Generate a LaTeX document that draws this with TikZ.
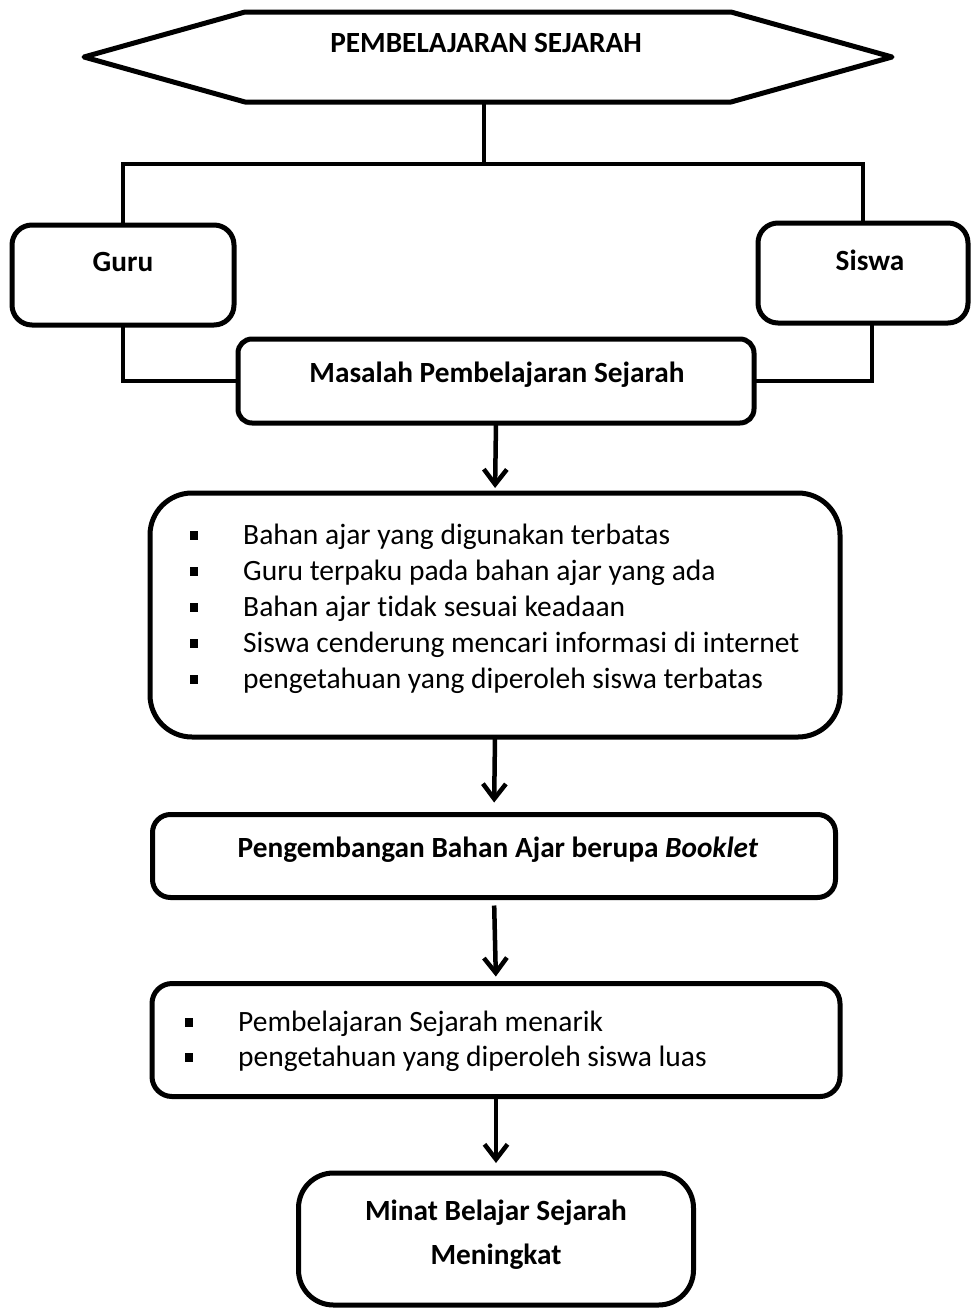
\documentclass[tikz,border=0pt]{standalone}
\usepackage{fontspec}
\setmainfont{Carlito}[Ligatures={NoCommon}]
\usetikzlibrary{arrows.meta}
\newcommand{\bul}{\makebox[53pt][l]{\rule[4pt]{8pt}{9pt}}}
\begin{document}
\begin{tikzpicture}[x=1pt,y=-1pt,
  box/.style={draw,line width=5pt,rounded corners=#1,inner sep=0pt,outer sep=0pt},
  box/.default=20pt,
  title/.style={font=\fontsize{29.3}{34}\selectfont\bfseries,inner sep=0pt,anchor=center},
  item/.style={font=\fontsize{29.5}{34}\selectfont,inner sep=0pt,anchor=base west},
  conn/.style={line width=4.5pt},
  arr/.style={line width=4.5pt,-{Straight Barb[length=15pt,width=23pt,line width=4.5pt]}},
]
\useasboundingbox (0,0) rectangle (971,1309);

% top hexagon
\draw[line width=5pt,line join=round]
  (84,57) -- (245,12) -- (731,12) -- (892,57) -- (731,102) -- (245,102) -- cycle;
\coordinate (hx) at (484,102);
\node[title] (thead) at (486,43) {PEMBELAJARAN SEJARAH};

% boxes
\node[box, minimum width=222pt, minimum height=100pt] (guru) at (123,275) {};
\node[title] (tguru) at (123,262) {Guru};
\node[box, minimum width=210pt, minimum height=100pt] (siswa) at (863,273) {};
\node[title] (tsiswa) at (870,260) {Siswa};
\node[box=14pt, minimum width=516pt, minimum height=84pt] (masalah) at (496,381) {};
\node[title] (tmasalah) at (497,375) {Masalah Pembelajaran Sejarah};
\node[box=42pt, minimum width=690pt, minimum height=244pt] (prob) at (495,615) {};
\node[box=18pt, minimum width=683pt, minimum height=83pt] (dev) at (494,856) {};
\node[title] (tdev) at (498,850) {Pengembangan Bahan Ajar berupa \textit{Booklet}};
\node[box=20pt, minimum width=688pt, minimum height=113pt] (res) at (496,1040) {};
\node[box=35pt, minimum width=395pt, minimum height=132pt] (minat) at (496,1239) {};
\node[title,align=center,font=\fontsize{29.3}{44}\selectfont\bfseries] (tminat) at (496,1235)
  {Minat Belajar Sejarah\\Meningkat};

% list of problems
\node[item] (p1) at (190,544) {\bul Bahan ajar yang digunakan terbatas};
\node[item] (p2) at (190,580) {\bul Guru terpaku pada bahan ajar yang ada};
\node[item] (p3) at (190,616) {\bul Bahan ajar tidak sesuai keadaan};
\node[item] (p4) at (190,652) {\bul Siswa cenderung mencari informasi di internet};
\node[item] (p5) at (190,688) {\bul pengetahuan yang diperoleh siswa terbatas};

% list of outcomes
\node[item] (r1) at (185,1031) {\bul Pembelajaran Sejarah menarik};
\node[item] (r2) at (185,1066) {\bul pengetahuan yang diperoleh siswa luas};

% branching connectors
\coordinate (bar) at (484,164);
\draw[conn] (hx) -- (bar);
\draw[conn] (guru.north) |- (bar) -| (siswa.north);
\draw[conn] (guru.south) |- (masalah.west);
\draw[conn] ([xshift=9pt]siswa.south) |- (masalah.east);

% arrows
\draw[arr, shorten >=5pt] (masalah.south) -- (prob.north);
\draw[arr, shorten >=12pt] (prob.south) -- (dev.north);
\draw[arr, shorten <=8pt, shorten >=7pt] (dev.south) -- (res.north);
\draw[arr, shorten >=10pt] (res.south) -- (minat.north);
\end{tikzpicture}
\end{document}
